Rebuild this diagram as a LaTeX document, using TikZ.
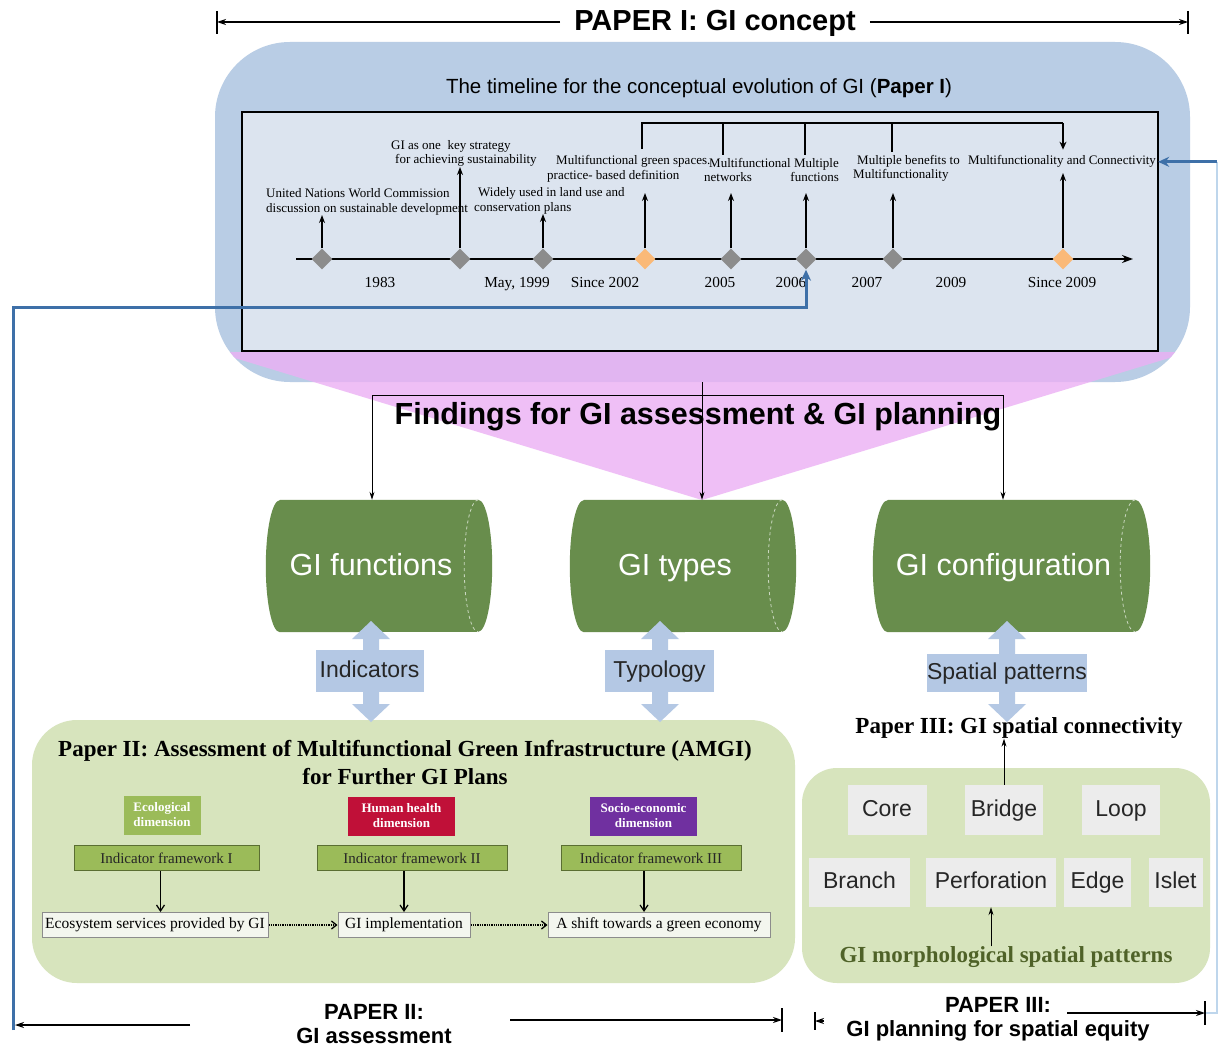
\documentclass[tikz,border=0pt]{standalone}
\usepackage{fontspec}
\setmainfont{Liberation Sans}
\newfontfamily\tnr{Liberation Serif}
\usetikzlibrary{arrows.meta,shapes.geometric}

\definecolor{paperblue}{RGB}{185,205,229}
\definecolor{tlfill}{RGB}{220,228,239}
\definecolor{findpink}{RGB}{236,176,244}
\definecolor{cylgreen}{RGB}{104,141,76}
\definecolor{dblue}{RGB}{180,200,228}
\definecolor{boxgreen}{RGB}{215,228,189}
\definecolor{ecogreen}{RGB}{155,187,89}
\definecolor{healthred}{RGB}{192,16,56}
\definecolor{socpurple}{RGB}{112,48,160}
\definecolor{fwborder}{RGB}{90,110,50}
\definecolor{resfill}{RGB}{243,246,238}
\definecolor{patfill}{RGB}{236,236,236}
\definecolor{morphgreen}{RGB}{79,98,40}
\definecolor{dgray}{RGB}{140,140,140}
\definecolor{dorange}{RGB}{250,185,120}
\definecolor{steel}{RGB}{62,112,168}
\definecolor{paleblue}{RGB}{190,214,236}

% horizontal green cylinder drawn around a named body node
\newcommand\gicyl[2]{%
  \fill[cylgreen] (#1.north west) -- (#1.north east)
     arc[start angle=-90,end angle=90,x radius=#2,y radius=66]
     -- (#1.south west)
     arc[start angle=90,end angle=270,x radius=#2,y radius=66] -- cycle;
  \draw[cylrim] (#1.north east) arc[start angle=270,end angle=90,x radius=#2,y radius=66];
}
% light blue two-headed block arrow centred on x = #1
\newcommand\dblarr[1]{%
  \fill[dblue] (#1,621) -- ++(19,18) -- ++(-11,0) -- ++(0,65) -- ++(11,0)
     -- ++(-19,18) -- ++(-19,-18) -- ++(11,0) -- ++(0,-65) -- ++(-11,0) -- cycle;
}

\begin{document}
\begin{tikzpicture}[x=1pt,y=-1pt,
  every node/.style={inner sep=0pt},
  tltxt/.style={font=\tnr\fontsize{13}{14.5}\selectfont},
  yr/.style={font=\tnr\fontsize{15.3}{18}\selectfont, anchor=base},
  dia/.style={diamond, fill=dgray, minimum width=21pt, minimum height=21pt},
  diaor/.style={dia, fill=dorange},
  rise/.style={line width=1.5pt, -{Stealth[length=8pt,width=6pt]}},
  brk/.style={line width=1.5pt},
  hdr/.style={line width=1.2pt, -{Stealth[length=9pt,width=6pt]}},
  endbar/.style={line width=1.2pt},
  thinarr/.style={line width=0.9pt, -{Stealth[length=8pt,width=5pt]}},
  bluecon/.style={steel, line width=3pt, -{Stealth[length=11pt,width=10pt]}},
  cylrim/.style={draw=white!65!cylgreen, dashed, line width=0.8pt},
  cyltxt/.style={text=white, font=\fontsize{30.5}{36}\selectfont, anchor=base},
  cylbody/.style={minimum height=132pt},
  lbl/.style={fill=dblue, minimum height=42pt, text height=17pt, text depth=5pt,
              font=\fontsize{23}{27}\selectfont, text=black!85},
  dimbox/.style={minimum height=39pt, text=white, font=\tnr\bfseries\fontsize{13}{15}\selectfont, align=center},
  fwbox/.style={fill=ecogreen, draw=fwborder, line width=1pt, minimum height=25pt, font=\tnr\fontsize{15}{18}\selectfont, text=black!85},
  resbox/.style={fill=resfill, draw=black!45, line width=1pt, minimum height=25pt, font=\tnr\fontsize{15.5}{18}\selectfont},
  patbox/.style={fill=patfill, text height=17pt, text depth=5pt, font=\fontsize{23}{27}\selectfont, text=black!85},
  dotarr/.style={densely dotted, line width=1.3pt, -{Straight Barb[length=5pt,width=8pt]}},
  fwdown/.style={line width=1.2pt, -{Straight Barb[length=6pt,width=8pt]}},
  ptitle/.style={font=\tnr\bfseries\fontsize{23}{28}\selectfont, align=center},
  plabel/.style={font=\bfseries\fontsize{22}{24}\selectfont, align=center},
]
\useasboundingbox (0,0) rectangle (1219,1046);
\fill[white] (0,0) rectangle (1219,1046);

% ---------- Paper I header ----------
\node[font=\bfseries\fontsize{29}{34}\selectfont] (p1) at (715,23) {PAPER I: GI concept};
\coordinate (p1L) at (217,22);
\coordinate (p1R) at (1188,22);
\draw[hdr] ([xshift=-14pt]p1.west |- p1L) -- (p1L);
\draw[hdr] ([xshift=14pt]p1.east |- p1R) -- (p1R);
\draw[endbar] (217,11) -- (217,34);
\draw[endbar] (1188,11) -- (1188,34);

% ---------- Paper I panel ----------
\fill[paperblue, rounded corners=75pt] (215,42) rectangle (1190,382);
\node[font=\fontsize{20.5}{24}\selectfont] (tlt) at (699,88)
  {The timeline for the conceptual evolution of GI (\textbf{Paper I})};
\begin{scope}
  \clip[rounded corners=75pt] (215,42) rectangle (1190,382)
       [sharp corners] (0,382) rectangle (1219,600);
  \fill[findpink, fill opacity=0.8] (215,352) -- (1189,352) -- (702,500) -- cycle;
\end{scope}
\node[draw, line width=2pt, fill=tlfill, minimum width=916pt, minimum height=239pt] (tlbox) at (700,231.5) {};

% timeline axis and events
\coordinate (ax0) at (296,259);
\coordinate (ax1) at (1133,259);
\draw[line width=2.5pt, -{Stealth[length=11pt,width=8pt]}] (ax0) -- (ax1);
\node[dia]   (d1) at (322,259) {};
\node[dia]   (d2) at (460,259) {};
\node[dia]   (d3) at (543,259) {};
\node[diaor] (d4) at (645,259) {};
\node[dia]   (d5) at (731,259) {};
\node[dia]   (d6) at (806,259) {};
\node[dia]   (d7) at (893,259) {};
\node[diaor] (d8) at (1063,259) {};

\node[tltxt, align=left, anchor=south west] (t1) at (266,215)
  {United Nations World Commission\\discussion on sustainable development};
\node[tltxt, align=left, anchor=south west] (t2) at (391,167)
  {GI as one~ key strategy\\\hspace*{4pt}for achieving sustainability};
\node[tltxt, align=left, anchor=south west] (t3) at (474,214)
  {\hspace*{4pt}Widely used in land use and\\conservation plans};
\node[tltxt, align=left, anchor=south west] (t4) at (547,182)
  {\hspace*{9pt}Multifunctional green spaces.\\practice- based definition};
\node[tltxt, align=left, anchor=south west] (t5) at (704,182)
  {\hspace*{5pt}Multifunctional\\networks};
\node[tltxt, align=right, anchor=south east] (t6) at (839,182)
  {Multiple\\functions};
\node[tltxt, align=left, anchor=south west] (t7) at (853,182)
  {\hspace*{4pt}Multiple benefits to\\Multifunctionality};
\node[tltxt, anchor=south west] (t8) at (968,168)
  {Multifunctionality and Connectivity};

\draw[rise] (d1.north) -- (d1.north |- t1.south);
\draw[rise] (d2.north) -- (d2.north |- t2.south);
\draw[rise] (d3.north) -- (d3.north |- t3.south);
\draw[rise, shorten >=11pt] (d4.north) -- (d4.north |- t4.south);
\draw[rise, shorten >=11pt] (d5.north) -- (d5.north |- t5.south);
\draw[rise, shorten >=11pt] (d6.north) -- (d6.north |- t6.south);
\draw[rise, shorten >=11pt] (d7.north) -- (d7.north |- t7.south);
\draw[rise, shorten >=5pt] (d8.north) -- (d8.north |- t8.south);

% bracket gathering the later definitions
\coordinate (bk4) at (642,123);
\coordinate (bk5) at (723,123);
\coordinate (bk6) at (805,123);
\coordinate (bk7) at (892,123);
\coordinate (bk8) at (1063,123);
\draw[brk] ([yshift=6pt]bk4 |- t4.north) -- (bk4) -- (bk8);
\draw[brk] (bk5) -- ([yshift=3pt]bk5 |- t5.north);
\draw[brk] (bk6) -- ([yshift=3pt]bk6 |- t6.north);
\draw[brk] (bk7) -- ([yshift=3pt]bk7 |- t7.north);
\draw[brk, -{Stealth[length=8pt,width=7pt]}] (bk8) -- ([yshift=6pt]bk8 |- t8.north);

% years
\node[yr] (y1) at (380,287) {1983};
\node[yr] (y2) at (517,287) {May, 1999};
\node[yr] (y3) at (605,287) {Since 2002};
\node[yr] (y4) at (720,287) {2005};
\node[yr] (y5) at (791,287) {2006};
\node[yr] (y6) at (867,287) {2007};
\node[yr] (y7) at (951,287) {2009};
\node[yr] (y8) at (1062,287) {Since 2009};

% ---------- feedback connectors ----------
\coordinate (lb) at (13,1030);
\coordinate (lt) at (13,307);
\draw[bluecon] (lb) -- (lt) -| (d6.south);
\coordinate (rb) at (1205,1013);
\coordinate (rc) at (1217,1013);
\draw[paleblue, line width=1.8pt] (rb) -- (rc) -- (rc |- t8.east);
\draw[bluecon] (rc |- t8.east) -- ([xshift=2pt]t8.east);

% ---------- findings ----------
\coordinate (brL) at (372,395);
\coordinate (brR) at (1003,395);
\coordinate (brM) at (702,382);
\node[font=\bfseries\fontsize{30.5}{36}\selectfont] (find) at (698,417)
  {Findings for GI assessment \& GI planning};

\node[cylbody, minimum width=198pt] (fun) at (379,566) {};
\node[cylbody, minimum width=198pt] (typ) at (683,566) {};
\node[cylbody, minimum width=247pt] (cfg) at (1011.5,566) {};

\draw[line width=0.9pt] (brL) -- (brR);
\draw[thinarr] (brL) -- (brL |- fun.north);
\draw[thinarr] (brR) -- (brR |- cfg.north);
\draw[thinarr] (brM) -- (brM |- typ.north);

\gicyl{fun}{14}
\gicyl{typ}{14}
\gicyl{cfg}{15}
\node[cyltxt] (funt) at ([xshift=-8pt,yshift=-9pt]fun.center) {GI functions};
\node[cyltxt] (typt) at ([xshift=-8pt,yshift=-9pt]typ.center) {GI types};
\node[cyltxt] (cfgt) at ([xshift=-8pt,yshift=-9pt]cfg.center) {GI configuration};

% ---------- Paper II panel ----------
\fill[boxgreen, rounded corners=45pt] (32,720) rectangle (795,983);
\node[ptitle] (p2t) at (405,763)
  {Paper II: Assessment of Multifunctional Green Infrastructure (AMGI)\\for Further GI Plans};
\node[dimbox, fill=ecogreen, minimum width=77pt] (eco) at (162,815) {Ecological\\dimension};
\node[dimbox, fill=healthred, minimum width=107pt] (hh) at (401.5,816) {Human health\\dimension};
\node[dimbox, fill=socpurple, minimum width=107pt] (se) at (643.5,816) {Socio-economic\\dimension};
\node[fwbox, minimum width=185pt] (f1) at (166.5,858) {Indicator framework I};
\node[fwbox, minimum width=190pt] (f2) at (412,858) {Indicator framework II};
\node[fwbox, minimum width=180pt] (f3) at (651,858) {Indicator framework III};
\node[resbox, minimum width=226pt] (r1) at (155,925) {Ecosystem services provided by GI};
\node[resbox, minimum width=132pt] (r2) at (404,925) {GI implementation};
\node[resbox, minimum width=222pt] (r3) at (659,925) {A shift towards a green economy};
\draw[fwdown] ([xshift=-6pt]f1.south) -- ([xshift=-6pt]f1.south |- r1.north);
\draw[fwdown] ([xshift=-8pt]f2.south) -- ([xshift=-8pt]f2.south |- r2.north);
\draw[fwdown] ([xshift=-7pt]f3.south) -- ([xshift=-7pt]f3.south |- r3.north);
\draw[dotarr] (r1.east) -- (r2.west);
\draw[dotarr] (r2.east) -- (r3.west);

% ---------- Paper III panel ----------
\node[ptitle] (p3t) at (1019,728) {Paper III: GI spatial connectivity};
\fill[boxgreen, rounded corners=35pt] (802,768) rectangle (1210,983);
\node[patbox, minimum width=79pt, minimum height=50pt] (core) at (887,810) {Core};
\node[patbox, minimum width=78pt, minimum height=50pt] (bridge) at (1004,810) {Bridge};
\node[patbox, minimum width=78pt, minimum height=50pt] (loop) at (1121,810) {Loop};
\node[patbox, minimum width=101pt, minimum height=49pt] (branch) at (859.5,882.5) {Branch};
\node[patbox, minimum width=130pt, minimum height=49pt] (perf) at (991,882.5) {Perforation};
\node[patbox, minimum width=67pt, minimum height=49pt] (edge) at (1097.5,882.5) {Edge};
\node[patbox, minimum width=54pt, minimum height=49pt] (islet) at (1175.5,882.5) {Islet};
\node[ptitle, text=morphgreen] (morph) at (1006,957) {GI morphological spatial patterns};
\draw[thinarr] (bridge.north) -- (bridge.north |- p3t.south);
\draw[thinarr] (morph.north -| perf.south) -- (perf.south);

% ---------- two-headed links between concepts and papers ----------
\dblarr{371}
\dblarr{660}
\dblarr{1007}
\node[lbl, minimum width=108pt] (ind) at (369.5,671) {Indicators};
\node[lbl, minimum width=109pt] (typo) at (659.5,671) {Typology};
\node[lbl, minimum width=140pt, minimum height=38pt] (spat) at (1007,673) {Spatial patterns};

% ---------- paper labels at the bottom ----------
\node[plabel] (p2l) at (374,1024) {PAPER II:\\GI assessment};
\coordinate (p2a) at (190,1025);
\coordinate (p2b) at (15,1025);
\coordinate (p2c) at (510,1020);
\coordinate (p2d) at (782,1020);
\draw[hdr] (p2a) -- (p2b);
\draw[hdr] (p2c) -- (p2d);
\draw[endbar] (782,1008) -- (782,1032);

\node[plabel] (p3l) at (998,1019) {PAPER III:\\GI planning for spatial equity};
\coordinate (p3a) at (824,1021);
\coordinate (p3b) at (815,1021);
\coordinate (p3c) at (1067,1013);
\draw[hdr] (p3a) -- (p3b);
\draw[endbar] (815,1012) -- (815,1030);
\draw[hdr] (p3c) -- (rb);
\draw[endbar] (1205,1001) -- (1205,1025);
\end{tikzpicture}
\end{document}
